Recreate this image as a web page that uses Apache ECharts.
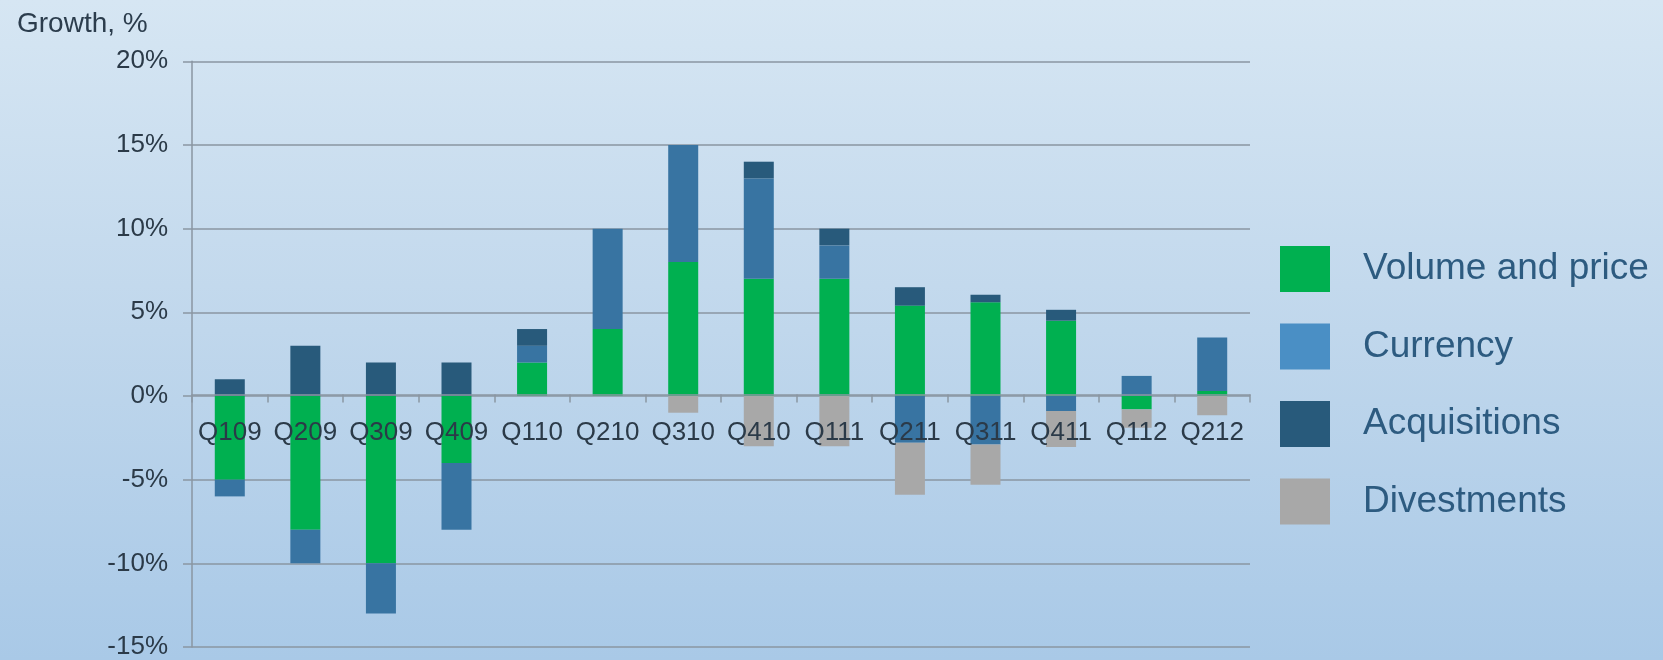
<!DOCTYPE html>
<html>
<head>
<meta charset="utf-8">
<title>Growth, %</title>
<script src="https://cdn.jsdelivr.net/npm/echarts@6/dist/echarts.min.js"></script>
<style>
  html, body { margin: 0; padding: 0; }
  #chart { width: 1663px; height: 660px; }
</style>
</head>
<body>
<div id="chart"></div>
<script>
// Quarterly growth split into its drivers (percentage points)
const quarters = ['Q109', 'Q209', 'Q309', 'Q409', 'Q110', 'Q210', 'Q310', 'Q410', 'Q111', 'Q211', 'Q311', 'Q411', 'Q112', 'Q212'];
const volumeAndPrice = [-5, -8, -10, -4, 2, 4, 8, 7, 7, 5.4, 5.6, 4.5, -0.8, 0.3];
const currency       = [-1, -2, -3, -4, 1, 6, 7, 6, 2, -2.8, -2.9, -0.9, 1.2, 3.2];
const acquisitions   = [1, 3, 2, 2, 1, 0, 0, 1, 1, 1.1, 0.45, 0.65, 0, 0];
const divestments    = [0, 0, 0, 0, 0, 0, -1, -3, -3, -3.1, -2.4, -2.15, -1.1, -1.15];
const yTicks = { min: -15, max: 20, step: 5 };

const FONT = "'Liberation Sans', Arial, sans-serif";
const AXIS_TEXT = '#2b3a48';
const GRID_LINE = '#8a96a2';

// plot area
const GRID = { left: 192, right: 413, top: 61.3, bottom: 9.3 };
const plotHeight = 660 - GRID.top - GRID.bottom;
// lift the category axis (line, ticks and labels) up to the 0% line
const zeroLift = plotHeight * (0 - yTicks.min) / (yTicks.max - yTicks.min);

const chart = echarts.init(document.getElementById('chart'), null, { renderer: 'canvas' });

function barSeries(name, data, color) {
  return {
    name: name,
    type: 'bar',
    stack: 'growth',
    barWidth: 30,
    data: data,
    itemStyle: { color: color },
    emphasis: { disabled: true }
  };
}

chart.setOption({
  animation: false,
  backgroundColor: {
    type: 'linear', x: 0, y: 0, x2: 0, y2: 1,
    colorStops: [
      { offset: 0, color: '#d6e6f3' },
      { offset: 0.5, color: '#c0d7ec' },
      { offset: 1, color: '#a9c9e7' }
    ]
  },
  title: {
    text: 'Growth, %',
    left: 12,
    top: 5,
    textStyle: { fontFamily: FONT, fontSize: 28, fontWeight: 'normal', color: '#2c3d4d' }
  },
  legend: {
    orient: 'vertical',
    left: 1280,
    top: 246,
    padding: 0,
    itemWidth: 50,
    itemHeight: 46,
    itemGap: 31.5,
    icon: 'rect',
    selectedMode: false,
    textStyle: { fontFamily: FONT, fontSize: 37, color: '#2d5b80', padding: [0, 0, 0, 28] },
    data: [
      { name: 'Volume and price', itemStyle: { color: '#00b050' } },
      { name: 'Currency', itemStyle: { color: '#4a8fc5' } },
      { name: 'Acquisitions', itemStyle: { color: '#285a7b' } },
      { name: 'Divestments', itemStyle: { color: '#a8a8a8' } }
    ]
  },
  grid: { left: GRID.left, right: GRID.right, top: GRID.top, bottom: GRID.bottom, containLabel: false },
  xAxis: {
    type: 'category',
    data: quarters,
    z: 10,
    position: 'bottom',
    offset: -zeroLift,
    axisLine: { onZero: false, lineStyle: { color: GRID_LINE, width: 1.5 } },
    axisTick: { show: true, length: 8, alignWithLabel: false, lineStyle: { color: GRID_LINE, width: 1.5 } },
    axisLabel: { interval: 0, margin: 25, fontFamily: FONT, fontSize: 26, color: AXIS_TEXT }
  },
  yAxis: {
    type: 'value',
    min: yTicks.min,
    max: yTicks.max,
    interval: yTicks.step,
    axisLine: { show: true, lineStyle: { color: GRID_LINE, width: 1.5 } },
    axisTick: { show: true, length: 9, lineStyle: { color: GRID_LINE, width: 1.5 } },
    splitLine: { show: true, lineStyle: { color: GRID_LINE, width: 1.5 } },
    axisLabel: {
      margin: 24,
      fontFamily: FONT,
      fontSize: 26,
      color: AXIS_TEXT,
      formatter: v => v + '%'
    }
  },
  series: [
    barSeries('Volume and price', volumeAndPrice, '#00b050'),
    barSeries('Currency', currency, '#3874a2'),
    barSeries('Acquisitions', acquisitions, '#285a7b'),
    barSeries('Divestments', divestments, '#a8a8a8')
  ]
});
</script>
</body>
</html>
